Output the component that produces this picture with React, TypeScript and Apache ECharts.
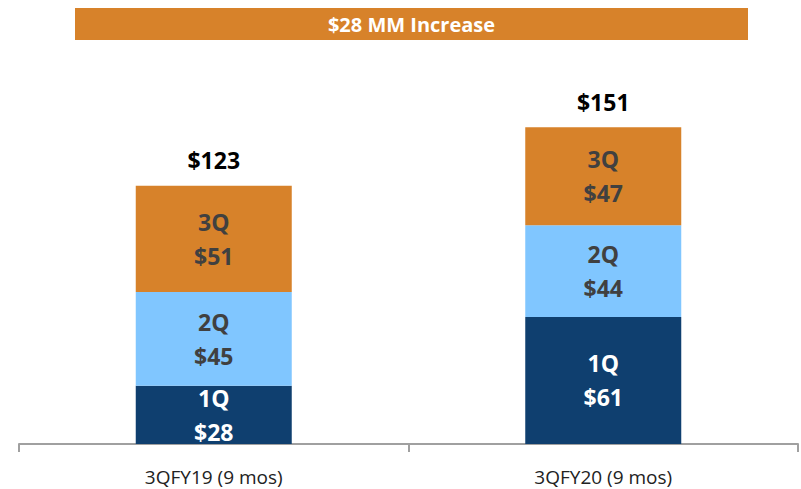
import React, { useEffect, useRef } from "react";
import * as echarts from "echarts";

const categories = ["3QFY19 (9 mos)", "3QFY20 (9 mos)"];
const q1Values = [28, 61];
const q2Values = [45, 44];
const q3Values = [51, 47];
const totals = [123, 151];
const bannerText = "$28 MM Increase";

const NAVY = "#0F3F6F";
const LIGHT = "#80C6FF";
const ORANGE = "#D7822A";
const FONT = "Open Sans";

export default function App() {
  const ref = useRef<HTMLDivElement>(null);
  useEffect(() => {
    if (!ref.current) return;
    const chart = echarts.init(ref.current, null, { renderer: "svg" });
    const inner = (q: string, color: string) => ({
      show: true,
      position: "inside",
      formatter: (p: any) => `${q}\n$${p.value}`,
      color,
      fontFamily: FONT,
      fontWeight: "bold",
      fontSize: 23,
      lineHeight: 34,
    });
    chart.setOption({
      animation: false,
      grid: { left: 19, right: 3, top: 69, bottom: 45, containLabel: false },
      xAxis: {
        type: "category",
        data: categories,
        axisLine: { show: true, lineStyle: { color: "#A0A0A0", width: 2 } },
        axisTick: { show: true, length: 8, lineStyle: { color: "#A0A0A0", width: 2 } },
        axisLabel: { color: "#222", fontFamily: FONT, fontSize: 19, lineHeight: 16, margin: 25 },
      },
      yAxis: {
        type: "value",
        min: 0,
        max: 180,
        show: false,
        splitLine: { show: false },
      },
      graphic: [
        {
          type: "rect",
          shape: { x: 75, y: 8, width: 673, height: 32 },
          style: { fill: ORANGE },
          silent: true,
        },
        {
          type: "text",
          x: 411.5,
          y: 24,
          style: {
            text: bannerText,
            fill: "#fff",
            font: `bold 20px '${FONT}'`,
            align: "center",
            verticalAlign: "middle",
          },
          silent: true,
        },
      ],
      series: [
        {
          name: "Total",
          type: "bar",
          data: totals,
          barWidth: 156,
          barGap: "-100%",
          z: 1,
          itemStyle: { color: "rgba(0,0,0,0)" },
          label: {
            show: true,
            position: "top",
            distance: 16,
            formatter: (p: any) => `$${p.value}`,
            color: "#000",
            fontFamily: FONT,
            fontWeight: "bold",
            fontSize: 23,
          },
        },
        {
          name: "1Q",
          type: "bar",
          stack: "q",
          data: q1Values,
          barWidth: 156,
          z: 2,
          itemStyle: { color: NAVY },
          label: inner("1Q", "#fff"),
        },
        {
          name: "2Q",
          type: "bar",
          stack: "q",
          data: q2Values,
          barWidth: 156,
          z: 2,
          itemStyle: { color: LIGHT },
          label: inner("2Q", "#404040"),
        },
        {
          name: "3Q",
          type: "bar",
          stack: "q",
          data: q3Values,
          barWidth: 156,
          z: 2,
          itemStyle: { color: ORANGE },
          label: inner("3Q", "#404040"),
        },
      ],
    });
    return () => chart.dispose();
  }, []);
  return <div ref={ref} style={{ width: 801, height: 489, position: "absolute", left: 0, top: 0 }} />;
}
